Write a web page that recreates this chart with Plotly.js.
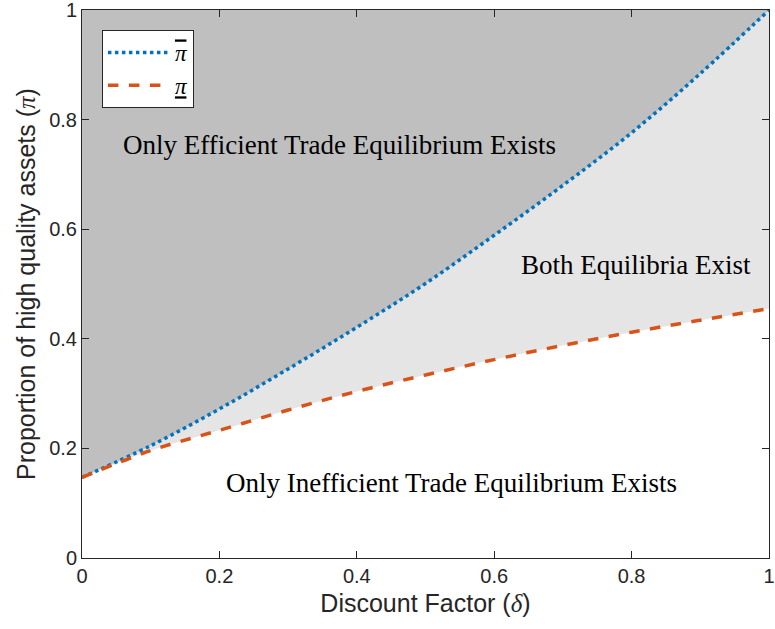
<!DOCTYPE html>
<html><head><meta charset="utf-8">
<script src="https://cdn.plot.ly/plotly-3.0.1.min.js"></script>
<style>body{margin:0;background:#fff}#chart{width:775px;height:629px}</style>
</head><body><div id="chart"></div>
<script>
const delta = [0, 0.1, 0.2, 0.3, 0.4, 0.5, 0.6, 0.7, 0.8, 0.9, 1.0];
const piUpper = [0.147, 0.205, 0.272, 0.345, 0.421, 0.501, 0.589, 0.680, 0.776, 0.884, 1.0];
const piLower = [0.147, 0.196, 0.233, 0.270, 0.304, 0.334, 0.362, 0.388, 0.412, 0.434, 0.455];
const xTicks = [0, 0.2, 0.4, 0.6, 0.8, 1];
const xTickText = ['0', '0.2', '0.4', '0.6', '0.8', '1'];
const yTicks = [0, 0.2, 0.4, 0.6, 0.8, 1];
const yTickText = ['0', '0.2', '0.4', '0.6', '0.8', '1'];
const regionLabels = ['Only Efficient Trade Equilibrium Exists', 'Both Equilibria Exist', 'Only Inefficient Trade Equilibrium Exists'];
const regionX = [0.3755, 0.806, 0.538];
const regionY = [0.754, 0.535, 0.137];

const serif = 'Liberation Serif, Times New Roman, serif';
const sans = 'Liberation Sans, Arial, sans-serif';
const traces = [
  {x: delta, y: piUpper, mode: 'lines', line: {width: 0, shape: 'spline', color: 'rgba(0,0,0,0)'},
   fill: 'tozeroy', fillcolor: '#e5e5e5', showlegend: false, hoverinfo: 'skip'},
  {x: delta, y: piLower, mode: 'lines', line: {width: 0, shape: 'spline', color: 'rgba(0,0,0,0)'},
   fill: 'tozeroy', fillcolor: '#ffffff', showlegend: false, hoverinfo: 'skip'},
  {x: delta, y: piUpper, mode: 'lines', name: '<span style="text-decoration:overline"><i>π</i></span>',
   line: {color: '#0072BD', width: 3.5, dash: 'dot', shape: 'spline'}},
  {x: delta, y: piLower, mode: 'lines', name: '<span style="text-decoration:underline"><i>π</i></span>',
   line: {color: '#D95319', width: 3.5, dash: 'dash', shape: 'spline'}}
];
const axisCommon = {
  showline: true, mirror: 'ticks', linecolor: '#262626', linewidth: 1,
  ticks: 'inside', ticklen: 7, tickcolor: '#262626', showgrid: false, zeroline: false,
  ticklabeloverflow: 'allow',
  tickfont: {family: sans, size: 20, color: '#262626'}
};
const layout = {
  width: 775, height: 629,
  margin: {l: 82, r: 6, t: 10, b: 71},
  paper_bgcolor: '#ffffff', plot_bgcolor: '#bfbfbf',
  xaxis: Object.assign({}, axisCommon, {range: [0, 1], tickvals: xTicks, ticktext: xTickText,
    title: {text: 'Discount Factor (<span style="font-family:' + serif + '"><i>δ</i></span>)',
      font: {family: sans, size: 25, color: '#262626'}, standoff: 8}}),
  yaxis: Object.assign({}, axisCommon, {range: [0, 1], tickvals: yTicks, ticktext: yTickText,
    title: {text: 'Proportion of high quality assets (<span style="font-family:' + serif + '"><i>π</i></span>)',
      font: {family: sans, size: 25, color: '#262626'}, standoff: 6}}),
  legend: {x: 0.029, y: 0.9635, xanchor: 'left', yanchor: 'top', bgcolor: '#ffffff',
    bordercolor: '#262626', borderwidth: 1, font: {family: serif, size: 23, color: '#000'},
    tracegroupgap: 0, itemwidth: 62},
  annotations: regionLabels.map((t, i) => ({x: regionX[i], y: regionY[i], xref: 'x', yref: 'y',
    text: t, showarrow: false, font: {family: serif, size: 27, color: '#000'}})),
  showlegend: true
};
Plotly.newPlot('chart', traces, layout, {displayModeBar: false, staticPlot: true});
</script></body></html>
